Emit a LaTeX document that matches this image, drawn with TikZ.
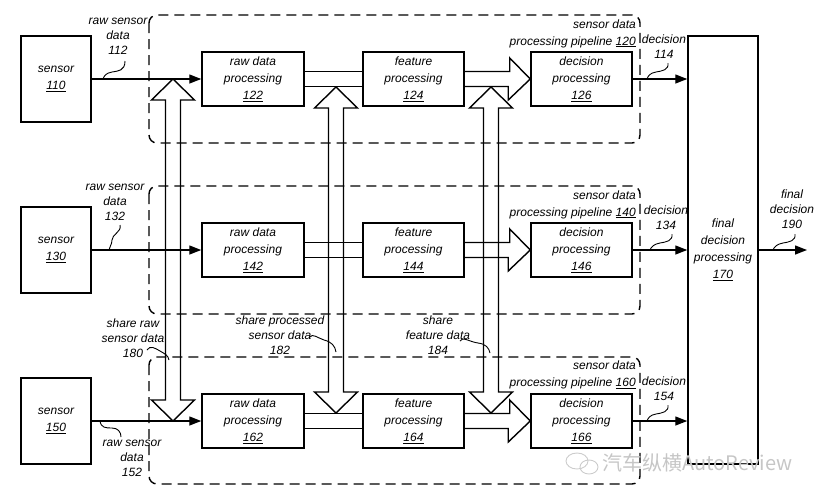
\documentclass[tikz,border=0pt]{standalone}
\usepackage{fontspec}
\setmainfont{Liberation Sans}
\newfontfamily\cjk{Noto Sans CJK SC}
\usetikzlibrary{arrows.meta,calc}
\newcommand\dblvarrow[3]{\draw[band] (#1,#2) -- ++(21.5,21) -- ++(-14,0) -- (#1+7.5,#3-21) -- ++(14,0) -- (#1,#3) -- ++(-21.5,-21) -- ++(14,0) -- (#1-7.5,#2+21) -- ++(-14,0) -- cycle;}
\begin{document}
\begin{tikzpicture}[x=1pt,y=-1pt,
  box/.style={draw,line width=1.5pt,inner sep=0pt,align=center,font=\itshape\fontsize{12}{17}\selectfont},
  lbl/.style={inner sep=0pt,align=center,font=\itshape\fontsize{12}{15}\selectfont},
  plbl/.style={inner sep=0pt,align=right,anchor=east,font=\itshape\fontsize{12}{17}\selectfont},
  pipe/.style={draw,line width=1.4pt,dash pattern=on 10pt off 6pt,rounded corners=8pt},
  conn/.style={line width=1.4pt,-{Triangle[length=12pt,width=9pt]}},
  band/.style={line width=1.4pt},
  lead/.style={line width=0.9pt}]
\useasboundingbox (0,0) rectangle (820,499);

% pipelines (dashed)
\draw[pipe] (149,15) rectangle (640,143);
\draw[pipe] (149,186) rectangle (640,314);
\draw[pipe] (149,357) rectangle (640,484);

% sensors
\node[box,minimum width=70pt,minimum height=86pt] (s110) at (56,79) {sensor\\\underline{110}};
\node[box,minimum width=70pt,minimum height=86pt] (s130) at (56,250) {sensor\\\underline{130}};
\node[box,minimum width=70pt,minimum height=86pt] (s150) at (56,421) {sensor\\\underline{150}};

% processing boxes
\node[box,minimum width=102pt,minimum height=54pt] (r122) at (253,79) {raw data\\processing\\\underline{122}};
\node[box,minimum width=101pt,minimum height=54pt] (f124) at (413.5,79) {feature\\processing\\\underline{124}};
\node[box,minimum width=101pt,minimum height=54pt] (d126) at (581.5,79) {decision\\processing\\\underline{126}};
\node[box,minimum width=102pt,minimum height=54pt] (r142) at (253,250) {raw data\\processing\\\underline{142}};
\node[box,minimum width=101pt,minimum height=54pt] (f144) at (413.5,250) {feature\\processing\\\underline{144}};
\node[box,minimum width=101pt,minimum height=54pt] (d146) at (581.5,250) {decision\\processing\\\underline{146}};
\node[box,minimum width=102pt,minimum height=54pt] (r162) at (253,421) {raw data\\processing\\\underline{162}};
\node[box,minimum width=101pt,minimum height=54pt] (f164) at (413.5,421) {feature\\processing\\\underline{164}};
\node[box,minimum width=101pt,minimum height=54pt] (d166) at (581.5,421) {decision\\processing\\\underline{166}};

% final decision
\node[box,minimum width=70pt,minimum height=428pt] (f170) at (723,250) {final\\decision\\processing\\\underline{170}};
\coordinate (o190) at (807,250);

% thin connectors
\draw[conn] (s110) -- (r122);
\draw[conn] (s130) -- (r142);
\draw[conn] (s150) -- (r162);
\draw[conn] (d126.east) -- (d126.east -| f170.west);
\draw[conn] (d146.east) -- (d146.east -| f170.west);
\draw[conn] (d166.east) -- (d166.east -| f170.west);
\draw[conn] (f170.east) -- (o190);

% bands raw -> feature
\foreach \r/\f in {r122/f124,r142/f144,r162/f164}{
  \draw[band] ([yshift=7.5pt]\r.east) -- ([yshift=7.5pt]\f.west);
  \draw[band] ([yshift=-7.5pt]\r.east) -- ([yshift=-7.5pt]\f.west);
}
% block arrows feature -> decision
\foreach \f/\d in {f124/d126,f144/d146,f164/d166}{
  \draw[band] ([yshift=7.5pt]\f.east) -- ++(45,0) -- ++(0,-13.5) -- (\d.west) -- ++(-22,21) -- ++(0,-13.5) -- ([yshift=-7.5pt]\f.east);
}

% vertical sharing arrows
\dblvarrow{173}{79}{421}
\dblvarrow{336}{87}{413}
\dblvarrow{491}{87}{413}

% pipeline labels
\node[plbl] (l120) at (636,33.5) {sensor data\\processing pipeline \underline{120}};
\node[plbl] (l140) at (636,204.5) {sensor data\\processing pipeline \underline{140}};
\node[plbl] (l160) at (636,375) {sensor data\\processing pipeline \underline{160}};

% data labels
\node[lbl] (l112) at (118,36) {raw sensor\\data\\112};
\node[lbl] (l132) at (115,202) {raw sensor\\data\\132};
\node[lbl] (l152) at (132,458) {raw sensor\\data\\152};
\node[lbl] (l114) at (664,46.5) {decision\\114};
\node[lbl] (l134) at (666,217.5) {decision\\134};
\node[lbl] (l154) at (664,388.5) {decision\\154};
\node[lbl] (l190) at (792,209) {final\\decision\\190};
\node[lbl] (l180) at (133,338) {share raw\\sensor data\\180};
\node[lbl] (l182) at (280,335) {share processed\\sensor data\\182};
\node[lbl] (l184) at (438,335) {share\\feature data\\184};

% leaders
\draw[lead] (125,61) .. controls (125,71) and (118,71) .. (112,72) .. controls (106,73) and (104,76) .. (103,79);
\draw[lead] (120,225) .. controls (122,232) and (112,234) .. (112,240) .. controls (112,245) and (109,247) .. (109,250);
\draw[lead] (100,421) .. controls (101,428) and (106,428) .. (112,428) .. controls (118,428) and (121,432) .. (121,437);
\draw[lead] (668,63) .. controls (669,70) and (662,71) .. (656,72) .. controls (650,73) and (648,76) .. (647,79);
\draw[lead] (672,234) .. controls (673,241) and (666,242) .. (660,243) .. controls (654,244) and (651,247) .. (650,250);
\draw[lead] (668,405) .. controls (669,412) and (662,413) .. (656,414) .. controls (650,415) and (648,418) .. (647,421);
\draw[lead] (795,234) .. controls (796,241) and (789,242) .. (783,243) .. controls (777,244) and (774,247) .. (773,250);
\draw[lead] (147,350) .. controls (150,345) and (155,348) .. (160,351) .. controls (165,354) and (168,355) .. (169,360);
\draw[lead] (310,337) .. controls (312,333) and (318,338) .. (324,340) .. controls (332,342) and (335,346) .. (336,352);
\draw[lead] (460,341) .. controls (462,336) and (470,342) .. (478,343) .. controls (486,344) and (489,348) .. (490,353);

% watermark
\draw[gray!40,line width=0.9pt] (577,461) ellipse (11 and 8);
\draw[gray!40,line width=0.9pt] (589,467) ellipse (9 and 7);
\node[font=\cjk\fontsize{20}{20}\selectfont,text=gray!45,anchor=west,inner sep=0pt] (wm) at (602,463) {汽车纵横AutoReview};
\end{tikzpicture}
\end{document}
